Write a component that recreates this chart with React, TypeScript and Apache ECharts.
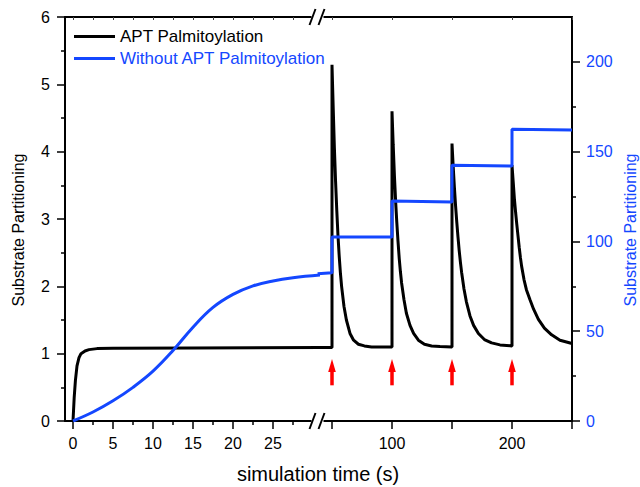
import React, { useEffect, useRef } from "react";
import * as echarts from "echarts";

// ---- data ----
const seriesNames = ["APT Palmitoylation", "Without APT Palmitoylation"];

// left segment (0 - 30 s)
const blackLeftT = [0, 0.15, 0.3, 0.5, 0.75, 1, 1.5, 2, 3, 5, 15, 31];
const blackLeftV = [0, 0.35, 0.6, 0.82, 0.94, 1.0, 1.04, 1.06, 1.075, 1.08, 1.085, 1.09];

const blueLeftT = [0, 2.5, 5, 7.5, 10, 12.5, 15, 17.5, 20, 22.5, 25, 27.5, 31];
const blueLeftV = [0, 5, 11.25, 18.75, 27.75, 39.25, 52.25, 63.25, 70.5, 75.25, 78, 79.75, 81.3];

// right segment (after break)
const pulseTimes = [50, 100, 150, 200];
const baseBeforePulses = [[38, 1.09], [50, 1.09]];
const decayOffsets = [0, 1, 2, 3, 4, 5, 6, 7, 8, 10, 12, 15, 18, 22, 27, 33, 40, 50];
const pulse1 = [5.29, 4.65, 4.05, 3.55, 3.12, 2.75, 2.45, 2.2, 2.0, 1.7, 1.5, 1.3, 1.2, 1.14, 1.115, 1.1, 1.1, 1.1];
const pulse2 = [4.6, 4.1, 3.65, 3.27, 2.95, 2.67, 2.42, 2.22, 2.05, 1.8, 1.6, 1.42, 1.3, 1.2, 1.14, 1.115, 1.105, 1.1];
const pulse3 = [4.12, 3.78, 3.47, 3.19, 2.95, 2.73, 2.53, 2.36, 2.21, 1.96, 1.77, 1.56, 1.42, 1.3, 1.21, 1.16, 1.13, 1.115];
const pulse4 = [3.8, 3.55, 3.3, 3.1, 2.92, 2.75, 2.58, 2.43, 2.3, 2.1, 1.95, 1.8, 1.66, 1.51, 1.38, 1.28, 1.2, 1.15];
const pulses = [pulse1, pulse2, pulse3, pulse4];

const blueRightT = [38, 50, 50, 100, 100, 150, 150, 200, 200, 250];
const blueRightV = [82, 82.5, 102.5, 102.5, 122.5, 122, 142.5, 142, 162.5, 162];

// arrows (left-axis units)
const arrowBottom = 0.53;
const arrowTop = 0.92;

// ticks
const leftXMajor = [0, 5, 10, 15, 20, 25];
const leftXMinor = [2.5, 7.5, 12.5, 17.5, 22.5, 27.5];
const leftXTop = [0, 2.5, 5, 7.5, 10, 12.5, 15, 17.5, 20, 22.5, 25, 27.5, 30];
const rightXTicks = [50, 100, 150, 200, 250];
const rightXLabels = [100, 200];
const rightYMajor = [0, 50, 100, 150, 200];
const rightYMinor = [25, 75, 125, 175];

// ---- layout ----
const W = 640;
const H = 487;
const gLeft = 65;
const gBreak = 318;
const gRight = 572;
const gTop = 17;
const gBottom = 421;
const FONT = "Liberation Sans, Arial, sans-serif";
const BLUE = "#1447ff";

const zip = (a: number[], b: number[]) => a.map((v, i) => [v, b[i]]);

function buildBlackRight() {
  const pts: number[][] = [...baseBeforePulses];
  pulses.forEach((vals, k) => {
    const t0 = pulseTimes[k];
    vals.forEach((v, i) => {
      pts.push([t0 + decayOffsets[i], v]);
    });
  });
  return pts;
}

function breakMarks(cx: number, cy: number) {
  return [
    { type: "rect", shape: { x: cx - 6, y: cy - 3, width: 12, height: 6 }, style: { fill: "#fff" }, z: 100 },
    { type: "line", shape: { x1: cx - 8, y1: cy + 8, x2: cx - 2, y2: cy - 8 }, style: { stroke: "#000", lineWidth: 2 }, z: 101 },
    { type: "line", shape: { x1: cx + 1, y1: cy + 8, x2: cx + 7, y2: cy - 8 }, style: { stroke: "#000", lineWidth: 2 }, z: 101 },
  ];
}

export default function App() {
  const ref = useRef<HTMLDivElement>(null);
  useEffect(() => {
    if (!ref.current) return;
    const chart = echarts.init(ref.current, undefined, { renderer: "svg" });
    const axisLine = { show: true, onZero: false, lineStyle: { color: "#000", width: 2 } };
    const tickStyle = { color: "#000", width: 1.5 };
    const labelStyle = { color: "#000", fontSize: 16, fontFamily: FONT };
    const leftMin = -1;
    const leftMax = leftMin + (gBreak - gLeft) / 8;
    const rightMax = 250;
    const rightMin = rightMax - (gRight - gBreak) / 1.2;

    const option: any = {
      animation: false,
      backgroundColor: "#fff",
      textStyle: { fontFamily: FONT },
      grid: [
        { left: gLeft, width: gBreak - gLeft, top: gTop, height: gBottom - gTop },
        { left: gBreak, width: gRight - gBreak, top: gTop, height: gBottom - gTop },
      ],
      legend: {
        orient: "vertical",
        left: 69,
        top: 23,
        icon: "rect",
        itemWidth: 41,
        itemHeight: 3,
        itemGap: 5,
        data: [
          { name: seriesNames[0], textStyle: { color: "#000" } },
          { name: seriesNames[1], textStyle: { color: BLUE } },
        ],
        textStyle: { fontSize: 17, fontFamily: FONT, lineHeight: 17 },
      },
      xAxis: [
        {
          type: "value", gridIndex: 0, position: "bottom", min: leftMin, max: leftMax,
          axisLine, splitLine: { show: false },
          axisTick: { show: true, length: 8, lineStyle: tickStyle, customValues: leftXMajor },
          axisLabel: { ...labelStyle, margin: 14, customValues: leftXMajor },
        },
        {
          type: "value", gridIndex: 1, position: "bottom", min: rightMin, max: rightMax,
          axisLine, splitLine: { show: false },
          axisTick: { show: true, length: 8, lineStyle: tickStyle, customValues: rightXTicks },
          axisLabel: { ...labelStyle, margin: 14, customValues: rightXLabels },
        },
        {
          type: "value", gridIndex: 0, position: "bottom", min: leftMin, max: leftMax,
          axisLine: { show: false, onZero: false }, splitLine: { show: false },
          axisTick: { show: true, length: 4, lineStyle: tickStyle, customValues: leftXMinor },
          axisLabel: { show: false },
        },
        {
          type: "value", gridIndex: 0, position: "top", min: leftMin, max: leftMax,
          axisLine, splitLine: { show: false },
          axisTick: { show: true, inside: true, length: 3, lineStyle: { color: "#444", width: 1 }, customValues: leftXTop },
          axisLabel: { show: false },
        },
        {
          type: "value", gridIndex: 1, position: "top", min: rightMin, max: rightMax,
          axisLine, splitLine: { show: false },
          axisTick: { show: true, inside: true, length: 3, lineStyle: { color: "#444", width: 1 }, customValues: rightXTicks },
          axisLabel: { show: false },
        },
      ],
      yAxis: [
        {
          type: "value", gridIndex: 0, position: "left", min: 0, max: 6, interval: 1,
          axisLine, splitLine: { show: false },
          axisTick: { show: true, length: 8, lineStyle: tickStyle },
          minorTick: { show: true, splitNumber: 2, length: 4, lineStyle: tickStyle },
          minorSplitLine: { show: false },
          axisLabel: { ...labelStyle, margin: 15 },
        },
        { type: "value", gridIndex: 0, min: 0, max: 225, show: false, splitLine: { show: false } },
        { type: "value", gridIndex: 1, min: 0, max: 6, show: false, splitLine: { show: false } },
        {
          type: "value", gridIndex: 1, position: "right", min: 0, max: 225,
          axisLine, splitLine: { show: false },
          axisTick: { show: true, length: 8, lineStyle: tickStyle, customValues: rightYMajor },
          axisLabel: { ...labelStyle, color: BLUE, margin: 14, customValues: rightYMajor },
        },
        {
          type: "value", gridIndex: 1, position: "right", min: 0, max: 225,
          axisLine: { show: false, onZero: false }, splitLine: { show: false },
          axisTick: { show: true, length: 4, lineStyle: tickStyle, customValues: rightYMinor },
          axisLabel: { show: false },
        },
      ],
      series: [
        {
          name: seriesNames[0], type: "line", xAxisIndex: 0, yAxisIndex: 0,
          data: zip(blackLeftT, blackLeftV), symbol: "none", smooth: false,
          lineStyle: { color: "#000", width: 3 }, itemStyle: { color: "#000" },
        },
        {
          name: seriesNames[0], type: "line", xAxisIndex: 1, yAxisIndex: 2,
          data: buildBlackRight(), symbol: "none",
          lineStyle: { color: "#000", width: 3 }, itemStyle: { color: "#000" },
        },
        {
          name: seriesNames[1], type: "line", xAxisIndex: 0, yAxisIndex: 1,
          data: zip(blueLeftT, blueLeftV), symbol: "none", smooth: 0.4,
          lineStyle: { color: BLUE, width: 3 }, itemStyle: { color: BLUE },
        },
        {
          name: seriesNames[1], type: "line", xAxisIndex: 1, yAxisIndex: 3,
          data: zip(blueRightT, blueRightV), symbol: "none",
          lineStyle: { color: BLUE, width: 3 }, itemStyle: { color: BLUE },
        },
        {
          type: "custom", xAxisIndex: 1, yAxisIndex: 2, clip: false,
          data: pulseTimes.map((t) => [t, arrowBottom, arrowTop]),
          encode: { x: 0, y: [1, 2] },
          renderItem: (params: any, api: any) => {
            const t = api.value(0);
            const lo = api.coord([t, api.value(1)]);
            const hi = api.coord([t, api.value(2)]);
            const headH = 13;
            return {
              type: "group",
              children: [
                { type: "rect", shape: { x: lo[0] - 1.75, y: hi[1] + headH - 1, width: 3.5, height: lo[1] - hi[1] - headH + 1 }, style: { fill: "#ff0000" } },
                { type: "polygon", shape: { points: [[hi[0] - 3.8, hi[1] + headH], [hi[0], hi[1]], [hi[0] + 3.8, hi[1] + headH]] }, style: { fill: "#ff0000" } },
              ],
            };
          },
        },
      ],
      graphic: [
        ...breakMarks(gBreak - 0.5, gBottom),
        ...breakMarks(gBreak - 0.5, gTop),
        {
          type: "text", x: 318, y: 474,
          style: { text: "simulation time (s)", fill: "#000", font: `20px ${FONT}`, textAlign: "center", textVerticalAlign: "middle" },
        },
        {
          type: "text", x: 18, y: 230, rotation: Math.PI / 2,
          style: { text: "Substrate Partitioning", fill: "#000", font: `16px ${FONT}`, textAlign: "center", textVerticalAlign: "middle" },
        },
        {
          type: "text", x: 630, y: 230, rotation: Math.PI / 2,
          style: { text: "Substrate Partitioning", fill: BLUE, font: `16px ${FONT}`, textAlign: "center", textVerticalAlign: "middle" },
        },
      ],
    };
    chart.setOption(option);
    return () => chart.dispose();
  }, []);
  return <div ref={ref} style={{ position: "fixed", left: 0, top: 0, width: W, height: H }} />;
}
